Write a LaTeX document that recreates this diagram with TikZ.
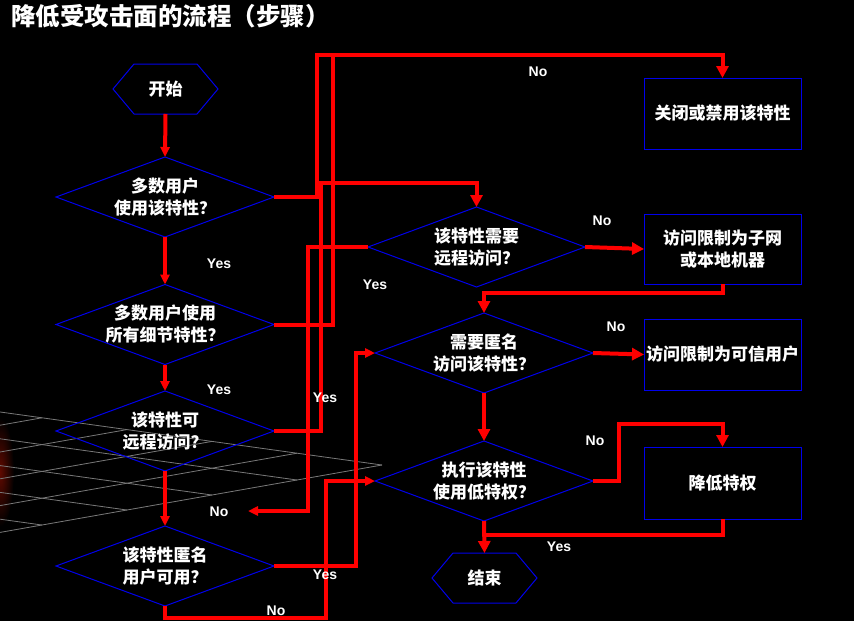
\documentclass[tikz,border=0pt]{standalone}
\usepackage{fontspec}
\setmainfont{Liberation Sans}
\newfontfamily\cjk{Noto Sans CJK SC}
\usetikzlibrary{shapes.geometric,arrows.meta}
\definecolor{flowred}{RGB}{255,0,0}
\definecolor{flowblue}{RGB}{0,0,235}
\definecolor{gridgray}{RGB}{120,120,120}
\definecolor{glowred}{RGB}{95,10,0}

% hexagonal outline around a (rectangular, undrawn) terminal node
\newcommand\hexoutline[1]{%
  \draw[flowblue, line width=1pt] (#1.west) -- ([xshift=21pt]#1.north west)
    -- ([xshift=-21pt]#1.north east) -- (#1.east)
    -- ([xshift=-21pt]#1.south east) -- ([xshift=21pt]#1.south west) -- cycle;}

\begin{document}
\begin{tikzpicture}[x=1pt, y=-1pt,
  decision/.style={shape=diamond, draw=flowblue, line width=1pt,
    minimum width=218pt, minimum height=80pt, inner sep=0pt, outer sep=0pt},
  actionbox/.style={draw=flowblue, line width=1pt, minimum width=157pt,
    minimum height=71pt, inner sep=0pt, outer sep=0pt},
  terminal/.style={minimum width=105pt, minimum height=50pt, inner sep=0pt,
    outer sep=0pt, text=white, font=\cjk\bfseries\fontsize{17}{22}\selectfont},
  cjktext/.style={text=white, font=\cjk\bfseries\fontsize{17}{22}\selectfont,
    align=center, inner sep=0pt},
  answer/.style={text=white, font=\bfseries\fontsize{14}{16}\selectfont,
    inner sep=0pt},
  flow/.style={draw=flowred, line width=4pt},
  bigtip/.style={-{Triangle[length=12pt,width=12pt]}},
  smalltip/.style={-{Triangle[length=10pt,width=9pt]}},
  gridline/.style={draw=gridgray, line width=0.8pt},
]
\fill[black] (0,0) rectangle (854,621);
\useasboundingbox (0,0) rectangle (854,621);

% floor grid with a faint glow at the left edge
\begin{scope}
  \clip (0,0) rectangle (854,621);
  \shade[inner color=glowred, outer color=black] (0,472) ellipse (14 and 55);
  \foreach \j in {0,...,4} {
    \draw[gridline] ({382-85*\j},{465+15*\j}) -- ++(-510,-70.8);
  }
  \foreach \i in {0,...,4} {
    \draw[gridline] ({382-85*\i},{465-11.8*\i}) -- ++(-510,90);
  }
\end{scope}

% title
\node[anchor=west, text=white, font=\cjk\bfseries\fontsize{24.5}{28}\selectfont, inner sep=0pt]
  (title) at (11,16) {降低受攻击面的流程（步骤）};

% terminals
\node[terminal] (start) at (165.5,89) {开始};
\hexoutline{start}
\node[terminal] (finish) at (484.5,578) {结束};
\hexoutline{finish}

% decisions
\node[decision] (d1) at (165,197) {};
\node[decision] (d2) at (165,324.5) {};
\node[decision] (d3) at (165,431) {};
\node[decision] (d4) at (165,566) {};
\node[decision, minimum width=217pt] (d5) at (476.5,247) {};
\node[decision] (d6) at (484,353) {};
\node[decision] (d7) at (484,481) {};

\node[cjktext] (d1t) at (d1) {多数用户\\使用该特性？};
\node[cjktext] (d2t) at (d2) {多数用户使用\\所有细节特性？};
\node[cjktext] (d3t) at (d3) {该特性可\\远程访问？};
\node[cjktext] (d4t) at (d4) {该特性匿名\\用户可用？};
\node[cjktext] (d5t) at (d5) {该特性需要\\远程访问？};
\node[cjktext] (d6t) at (d6) {需要匿名\\访问该特性？};
\node[cjktext] (d7t) at (d7) {执行该特性\\使用低特权？};

% actions
\node[actionbox] (b1) at (722.5,113.5) {};
\node[actionbox, minimum height=70pt] (b2) at (722.5,249) {};
\node[actionbox] (b3) at (722.5,354.5) {};
\node[actionbox, minimum height=72pt] (b4) at (722.5,483) {};

\node[cjktext] (b1t) at (b1) {关闭或禁用该特性};
\node[cjktext] (b2t) at (b2) {访问限制为子网\\或本地机器};
\node[cjktext] (b3t) at (b3) {访问限制为可信用户};
\node[cjktext] (b4t) at (b4) {降低特权};

\coordinate (noend) at (248,511);

% connectors
\draw[flow, smalltip] (start.south) -- (d1.north);
\draw[flow, smalltip] (d1.south) -- (d2.north);
\draw[flow, smalltip] (d2.south) -- (d3.north);
\draw[flow, smalltip] (d3.south) -- (d4.north);
\draw[flow, bigtip] (d1.east) -| (317,55) -| (b1.north);
\draw[flow] (d2.east) -| (333,55);
\draw[flow, bigtip] (d3.east) -| (321,183) -| (d5.north);
\draw[flow, smalltip] (d5.west) -| (308,511) -- (noend);
\draw[flow, smalltip] (d4.east) -| (356,353) -- (d6.west);
\draw[flow, smalltip] (d4.south) |- (326,618) |- (d7.west);
\draw[flow, bigtip] (d5.east) -- (b2.west);
\draw[flow, bigtip] (b2.south) -- ++(0,9) -| (d6.north);
\draw[flow, bigtip] (d6.east) -- (b3.west);
\draw[flow, bigtip] (d6.south) -- (d7.north);
\draw[flow, bigtip] (d7.east) -| (619,424) -| (b4.north);
\draw[flow, bigtip] (d7.south) -- (finish.north);
\draw[flow] (b4.south) |- (484,535);

% answers
\node[answer] (n1) at (538,72) {No};
\node[answer] (y1) at (219,264) {Yes};
\node[answer] (y2) at (219,390) {Yes};
\node[answer] (y3) at (375,285) {Yes};
\node[answer] (n2) at (602,221) {No};
\node[answer] (n3) at (616,327) {No};
\node[answer] (y4) at (325,398) {Yes};
\node[answer] (n4) at (595,441) {No};
\node[answer] (n5) at (219,512) {No};
\node[answer] (y5) at (559,547) {Yes};
\node[answer] (y6) at (325,575) {Yes};
\node[answer] (n6) at (276,611) {No};
\end{tikzpicture}
\end{document}
